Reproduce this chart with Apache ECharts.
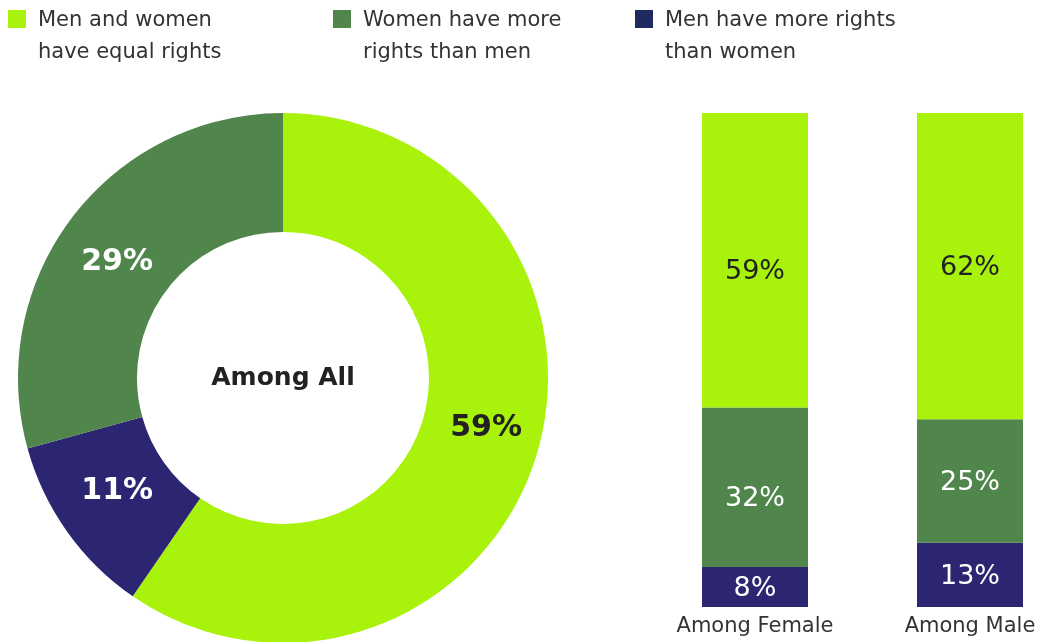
<!DOCTYPE html>
<html><head><meta charset="utf-8">
<script src="https://cdn.jsdelivr.net/npm/echarts@6/dist/echarts.min.js"></script>
<style>html,body{margin:0;padding:0;background:#fff}#c{width:1041px;height:642px}</style>
</head><body><div id="c"></div>
<script>
const categories = ['Men and women\nhave equal rights', 'Women have more\nrights than men', 'Men have more rights\nthan women'];
const allValues = [59, 29, 11];
const barGroups = ['Among Female', 'Among Male'];
const femaleValues = [59, 32, 8];
const maleValues = [62, 25, 13];
const colors = ['#a8f20c', '#50854c', '#2b2572'];
const legendColors = ['#a8f20c', '#50854c', '#1f2a5e'];
const FONT = 'DejaVu Sans';

const chart = echarts.init(document.getElementById('c'), null, {renderer: 'canvas'});

const legendX = [8, 333, 635];
const legendGraphics = [];
categories.forEach((n, i) => {
  legendGraphics.push({type: 'rect', shape: {x: legendX[i], y: 10, width: 18, height: 18},
    style: {fill: legendColors[i]}, silent: true});
  legendGraphics.push({type: 'text', x: legendX[i] + 30, y: 5,
    style: {text: n, fontFamily: FONT, fontSize: 21, lineHeight: 32, fill: '#333',
      textAlign: 'left', textVerticalAlign: 'top'}, silent: true});
});

// pie data in drawing order: equal, men more, women more (clockwise from top)
const pieOrder = [0, 2, 1];
const pieLabelOffsets = {0: [4, -12], 2: [4, -8], 1: [0, 10]};
const pieData = pieOrder.map(i => ({
  name: categories[i], value: allValues[i],
  itemStyle: {color: colors[i]},
  label: {color: i === 0 ? '#222' : '#fff', offset: pieLabelOffsets[i]}
}));

function barSeries(values, gi) {
  const order = [2, 1, 0]; // bottom to top
  return order.map(i => ({
    type: 'bar', stack: 's' + gi, name: categories[i],
    xAxisIndex: gi, yAxisIndex: gi,
    data: [values[i]], barWidth: '100%',
    itemStyle: {color: colors[i]},
    label: {show: true, position: 'inside', formatter: '{c}%', fontFamily: FONT, fontSize: 27,
      color: i === 0 ? '#222' : '#fff',
      offset: gi === 0 && i !== 2 ? [0, 12] : [0, 2]}
  }));
}

const sumF = femaleValues.reduce((a, b) => a + b, 0);
const sumM = maleValues.reduce((a, b) => a + b, 0);

chart.setOption({
  animation: false,
  grid: [
    {left: 702, width: 106, top: 113, bottom: 35},
    {left: 917, width: 106, top: 113, bottom: 35}
  ],
  xAxis: [0, 1].map(g => ({gridIndex: g, type: 'category', data: [barGroups[g]],
    axisLine: {show: false}, axisTick: {show: false},
    axisLabel: {fontFamily: FONT, fontSize: 21, color: '#333', margin: 9}})),
  yAxis: [0, 1].map(g => ({gridIndex: g, type: 'value', min: 0, max: g === 0 ? sumF : sumM, show: false})),
  series: [
    {
      type: 'pie', name: 'all', center: [283, 378], radius: [146, 265],
      startAngle: 90, clockwise: true, avoidLabelOverlap: false,
      label: {show: true, position: 'inside', formatter: '{c}%', fontFamily: FONT, fontSize: 30, fontWeight: 'bold'},
      labelLine: {show: false},
      emphasis: {disabled: true},
      data: pieData
    },
    ...barSeries(femaleValues, 0),
    ...barSeries(maleValues, 1)
  ],
  graphic: [
    ...legendGraphics,
    {
      type: 'text', x: 283, y: 378, silent: true,
      style: {text: 'Among All', fontFamily: FONT, fontSize: 25, fontWeight: 'bold', fill: '#222',
        textAlign: 'center', textVerticalAlign: 'middle'}
    }
  ]
});
</script></body></html>
